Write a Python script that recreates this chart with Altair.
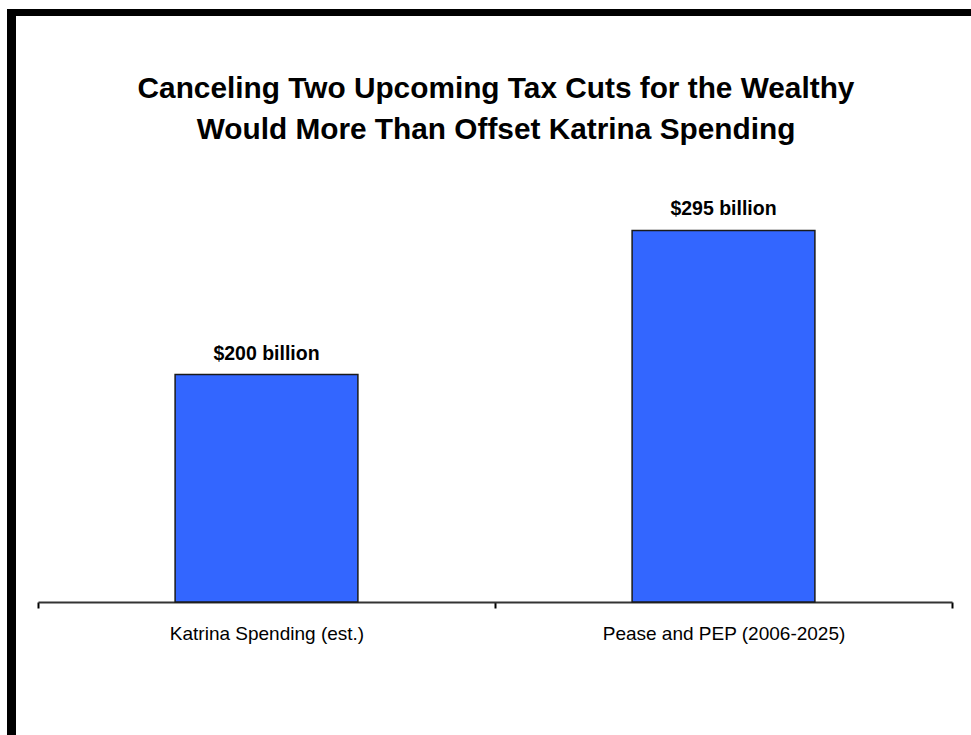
import altair as alt
import pandas as pd

categories = ["Katrina Spending (est.)", "Pease and PEP (2006-2025)"]
values = [200, 295]
labels = ["$200 billion", "$295 billion"]
title_lines = ["Canceling Two Upcoming Tax Cuts for the Wealthy",
               "Would More Than Offset Katrina Spending"]

df = pd.DataFrame({"cat": categories, "val": values, "lab": labels})

FONT = "Liberation Sans"

x_enc = alt.X("cat:N", sort=categories, title=None,
              scale=alt.Scale(paddingInner=0, paddingOuter=0),
              axis=alt.Axis(labelAngle=0, labelFont=FONT, labelFontSize=19,
                            labelColor="#000000", labelPadding=31,
                            labelBaseline="alphabetic", labelLimit=0,
                            domainColor="#333333", domainWidth=2,
                            tickColor="#000000", tickWidth=2, tickSize=6,
                            tickBand="extent", grid=False))
y_scale = alt.Scale(domain=[50, 350], zero=False, nice=False)

bars = alt.Chart(df).mark_bar(color="#3366FF", stroke="#1a1a1a", strokeWidth=1.5,
                              width=alt.RelativeBandSize(0.4)).encode(
    x=x_enc,
    y=alt.Y("val:Q", scale=y_scale, axis=None),
    y2=alt.datum(50),
)

text = alt.Chart(df).mark_text(font=FONT, fontSize=19.5, fontWeight="bold",
                               baseline="alphabetic", dy=-15, color="#000000").encode(
    x=alt.X("cat:N", sort=categories),
    y=alt.Y("val:Q", scale=y_scale),
    text="lab:N",
)

title1 = alt.Chart(pd.DataFrame({"t": [title_lines[0]]})).mark_text(
    font=FONT, fontSize=29.8, fontWeight="bold", baseline="alphabetic",
    align="center", color="#000000", clip=False).encode(
    x=alt.value(458), y=alt.value(-49), text="t:N")
title2 = alt.Chart(pd.DataFrame({"t": [title_lines[1]]})).mark_text(
    font=FONT, fontSize=29.8, fontWeight="bold", baseline="alphabetic",
    align="center", color="#000000", clip=False).encode(
    x=alt.value(458), y=alt.value(-8), text="t:N")

left_border = alt.Chart(pd.DataFrame({"k": ["left"]})).mark_rect(color="#000000", clip=False).encode(
    x=alt.value(-31), x2=alt.value(-22), y=alt.value(-138), y2=alt.value(600))
top_border = alt.Chart(pd.DataFrame({"k": ["top"]})).mark_rect(color="#000000", clip=False).encode(
    x=alt.value(-31), x2=alt.value(950), y=alt.value(-138), y2=alt.value(-131))

chart = alt.layer(bars, text, title1, title2, left_border, top_border).properties(
    width=914, height=455,
    autosize=alt.AutoSizeParams(type="none"),
    padding={"left": 38, "top": 147, "right": 19, "bottom": 133},
    background="#ffffff",
).configure_view(stroke=None)

chart.save("out.html", embed_options={"renderer": "svg", "actions": False})
